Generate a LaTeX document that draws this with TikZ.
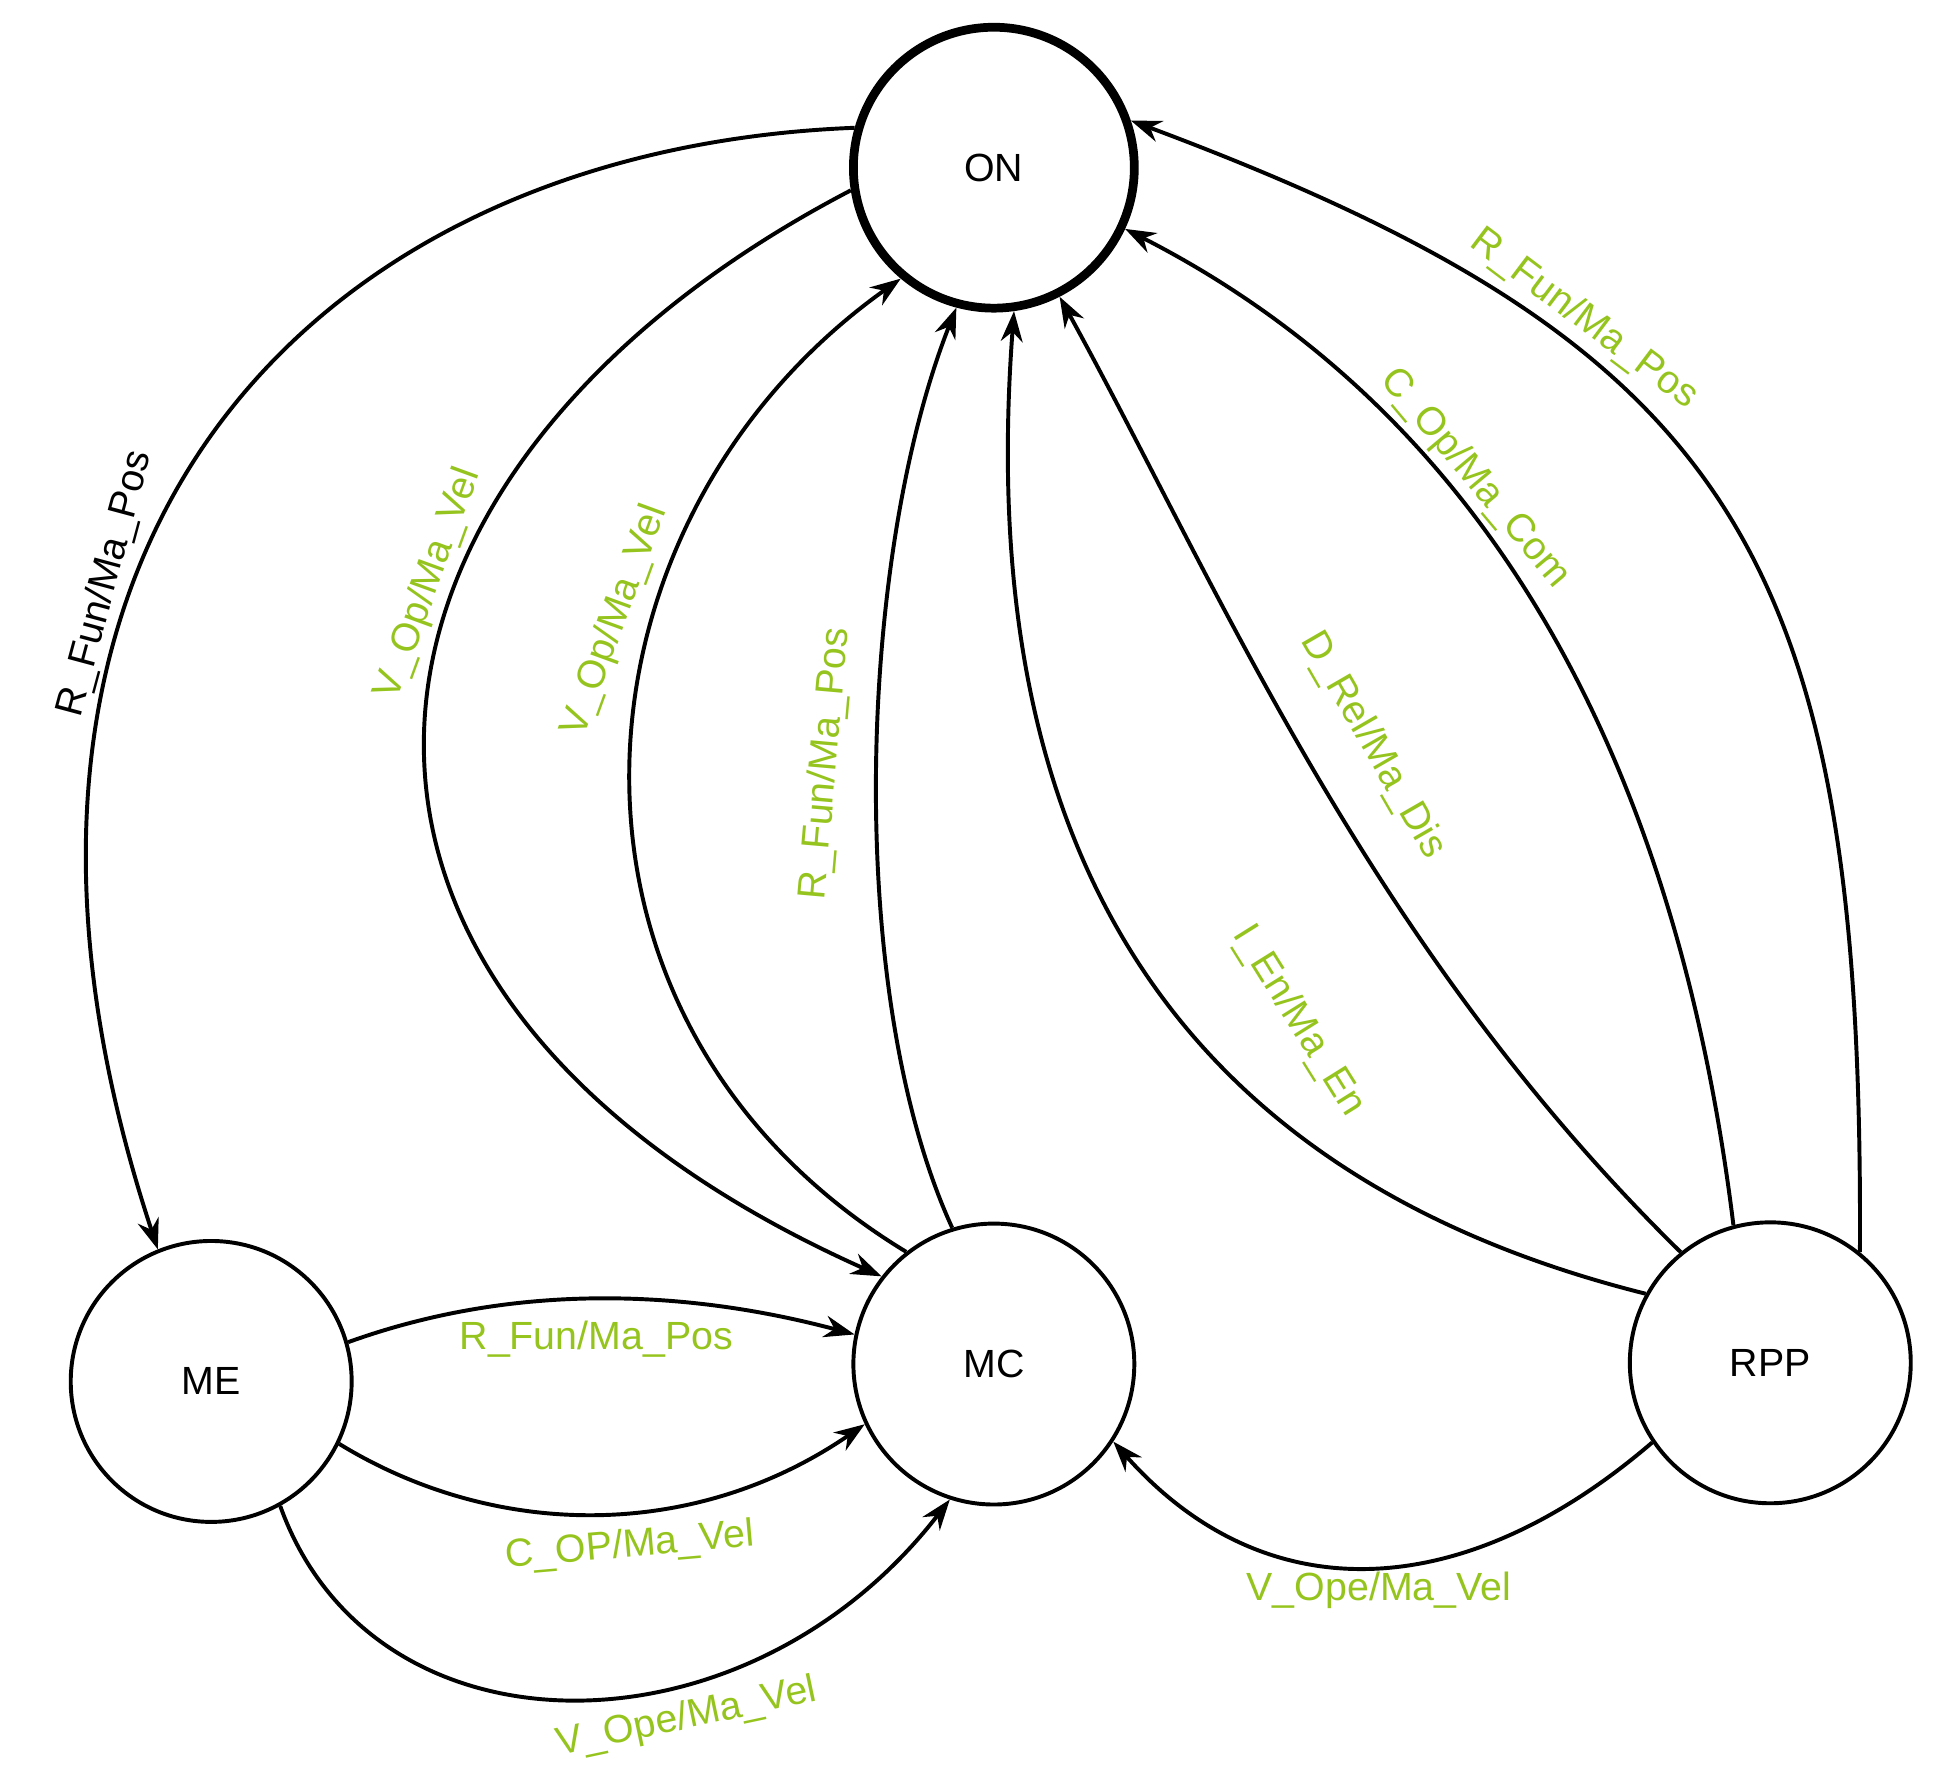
\documentclass[tikz,border=0pt]{standalone}
\usepackage{fontspec}
\setmainfont{Liberation Sans}
\usetikzlibrary{arrows.meta}
\definecolor{lg}{RGB}{150,196,30}
\begin{document}
\begin{tikzpicture}[x=0.01cm,y=-0.01cm,
  st/.style={circle,draw,line width=0.9pt,minimum size=2.26cm,inner sep=0pt,font=\fontsize{9}{11}\selectfont},
  e/.style={line width=0.9pt,-{Stealth[length=7pt,width=5pt]}},
  lb/.style={text=lg,font=\fontsize{9}{11}\selectfont,inner sep=0pt}]
\useasboundingbox (0,0) rectangle (1560,1437);
\node[st,line width=2pt] (ON) at (800,135) {ON};
\node[st] (ME) at (170,1112) {ME};
\node[st] (MC) at (800,1098) {MC};
\node[st] (RPP) at (1425,1097) {RPP};
% edges
\draw[e] (ON.164) .. controls (250,120) and (-60,440) .. (ME.112);
\draw[e] (ON.189) .. controls (250,380) and (200,800) .. (MC.142);
\draw[e] (MC.128) .. controls (420,820) and (450,420) .. (ON.230);
\draw[e] (MC.107) .. controls (680,800) and (690,450) .. (ON.255);
\draw[e] (RPP.151) .. controls (880,930) and (790,600) .. (ON.278);
\draw[e] (RPP.129) .. controls (1100,760) and (980,470) .. (ON.297);
\draw[e] (RPP.105) .. controls (1360,700) and (1250,360) .. (ON.335);
\draw[e] (RPP.51) .. controls (1500,450) and (1400,280) .. (ON.19);
\draw[e] (ME.16) .. controls (420,1030) and (560,1040) .. (MC.168);
\draw[e] (ME.-26) .. controls (400,1240) and (560,1240) .. (MC.205);
\draw[e] (ME.-61) .. controls (300,1420) and (600,1420) .. (MC.252);
\draw[e] (RPP.214) .. controls (1180,1290) and (1020,1300) .. (MC.327);
% labels
\node[lb,text=black,rotate=75] (l1) at (85,470) {R\_Fun/Ma\_Pos};
\node[lb,rotate=70] (l2) at (345,470) {V\_Op/Ma\_Vel};
\node[lb,rotate=70] (l3) at (495,500) {V\_Op/Ma\_Vel};
\node[lb,rotate=85] (l4) at (665,615) {R\_Fun/Ma\_Pos};
\node[lb,rotate=-58] (l5) at (1045,822) {I\_En/Ma\_En};
\node[lb,rotate=-60] (l6) at (1105,600) {D\_Rel/Ma\_Dis};
\node[lb,rotate=-50] (l7) at (1187,385) {C\_Op/Ma\_Com};
\node[lb,rotate=-37] (l8) at (1275,257) {R\_Fun/Ma\_Pos};
\node[lb] (l9) at (480,1078) {R\_Fun/Ma\_Pos};
\node[lb,rotate=5] (l10) at (507,1245) {C\_OP/Ma\_Vel};
\node[lb,rotate=12] (l11) at (553,1383) {V\_Ope/Ma\_Vel};
\node[lb] (l12) at (1110,1280) {V\_Ope/Ma\_Vel};
\end{tikzpicture}
\end{document}
